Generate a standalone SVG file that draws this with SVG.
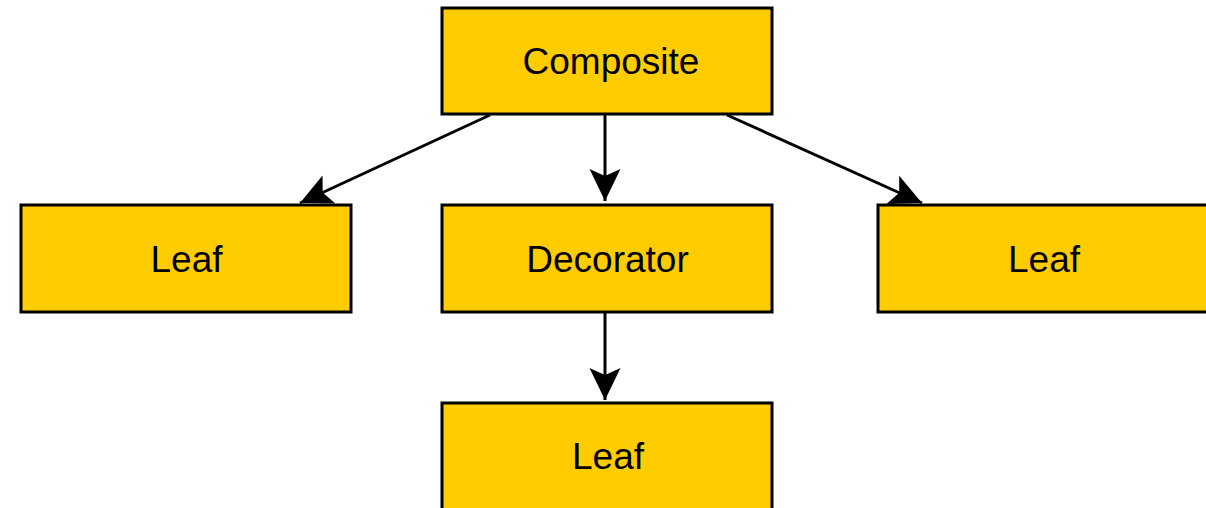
<svg xmlns="http://www.w3.org/2000/svg" width="1206" height="508" viewBox="0 0 1206 508">
<style>
.box{fill:#FFCC00;stroke:#000;stroke-width:3}
.lbl{font-family:"Liberation Sans",Arial,sans-serif;font-size:37px;fill:#000;text-anchor:middle}
.edge{stroke:#000;stroke-width:3;fill:none}
</style>
<defs>
<marker id="arr" markerUnits="userSpaceOnUse" markerWidth="34" markerHeight="34" refX="32" refY="16" orient="auto" viewBox="0 0 34 34">
<path d="M32,16 L0,0.5 L7,16 L0,31.5 Z" fill="#000"/>
</marker>
</defs>
<rect width="1206" height="508" fill="#fff"/>
<g id="connectors">
<line class="edge" x1="490" y1="115" x2="300" y2="203" marker-end="url(#arr)"/>
<line class="edge" x1="605" y1="115" x2="605" y2="201" marker-end="url(#arr)"/>
<line class="edge" x1="727" y1="115" x2="922" y2="203" marker-end="url(#arr)"/>
<line class="edge" x1="605" y1="312" x2="605" y2="400" marker-end="url(#arr)"/>
</g>
<g id="composite"><rect class="box" x="442" y="8" width="330" height="106"/><text class="lbl" x="611" y="74">Composite</text></g>
<g id="leaf-left"><rect class="box" x="21" y="205" width="330" height="107"/><text class="lbl" x="186.5" y="272">Leaf</text></g>
<g id="decorator"><rect class="box" x="442" y="205" width="330" height="107"/><text class="lbl" x="607.5" y="272">Decorator</text></g>
<g id="leaf-right"><rect class="box" x="878" y="205" width="330" height="107"/><text class="lbl" x="1044" y="272">Leaf</text></g>
<g id="leaf-bottom"><rect class="box" x="442" y="403" width="330" height="108"/><text class="lbl" x="608" y="469">Leaf</text></g>
</svg>
